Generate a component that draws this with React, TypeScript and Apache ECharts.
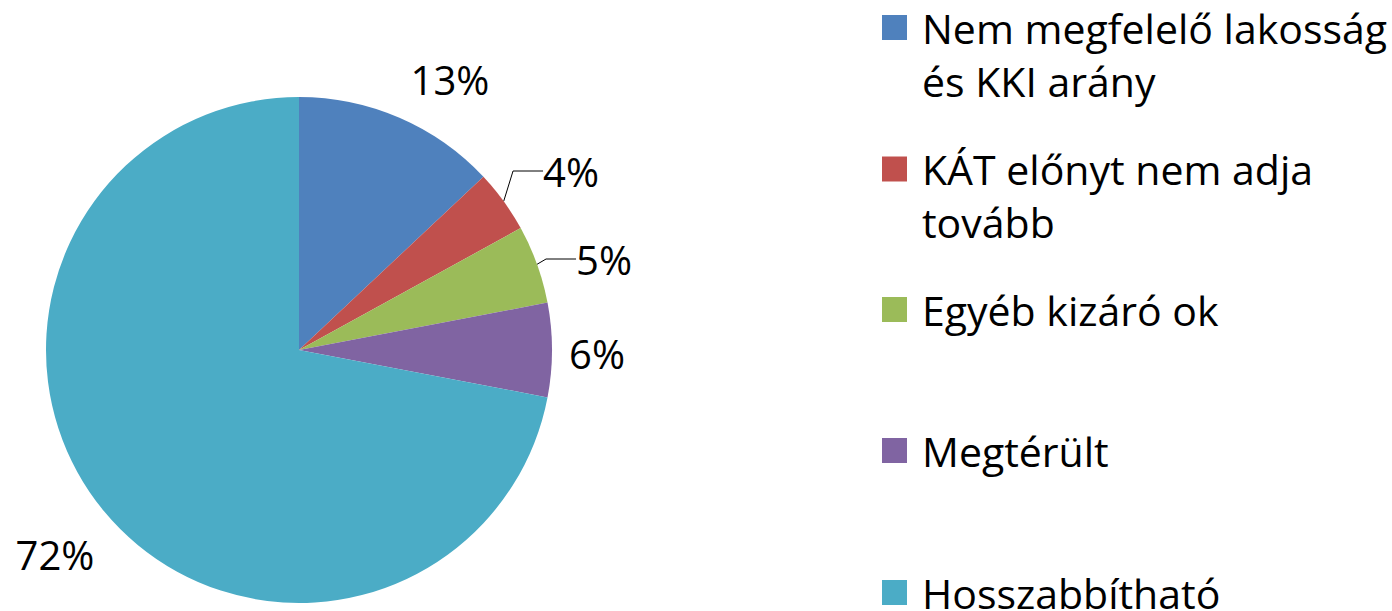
import React, { useEffect, useRef } from "react";
import * as echarts from "echarts";

const categories = [
  "Nem megfelelő lakosság\nés KKI arány",
  "KÁT előnyt nem adja\ntovább",
  "Egyéb kizáró ok",
  "Megtérült",
  "Hosszabbítható",
];
const values = [13, 4, 5, 6, 72];
const colors = ["#4F81BD", "#C0504D", "#9BBB59", "#8064A2", "#4BACC6"];
const leaderLines = [false, true, true, false, false];

// label placement (px) for each slice's percentage label
const labelPos: number[][] = [
  [450, 79],
  [571, 171],
  [604, 259],
  [597, 353],
  [55, 554],
];
// legend icon centre y for each legend entry
const legendIconY = [27.5, 169, 309.5, 450.5, 592.5];

const FONT = "'Open Sans', sans-serif";
const LH = 53;

export default function App() {
  const ref = useRef<HTMLDivElement>(null);
  useEffect(() => {
    if (!ref.current) return;
    const chart = echarts.init(ref.current, null, { renderer: "svg" });
    const legends = categories.map((name, i) => {
      const twoLine = name.includes("\n");
      const boxH = twoLine ? 3 * LH : LH;
      return {
        show: true,
        orient: "vertical",
        left: 882,
        top: legendIconY[i] - boxH / 2,
        padding: 0,
        data: [name],
        icon: "rect",
        itemWidth: 25,
        itemHeight: 25,
        selectedMode: false,
        formatter: (n: string) => (n.includes("\n") ? "\u00a0\n" + n : n),
        textStyle: {
          fontFamily: FONT,
          fontSize: 41,
          color: "#000",
          lineHeight: LH,
          padding: [0, 0, 0, 10],
        },
      };
    });
    chart.setOption({
      animation: false,
      backgroundColor: "#fff",
      color: colors,
      legend: legends,
      series: [
        {
          type: "pie",
          center: [299, 350],
          radius: 253,
          startAngle: 90,
          clockwise: true,
          avoidLabelOverlap: false,
          itemStyle: { borderWidth: 0 },
          label: {
            show: true,
            position: "outside",
            fontFamily: FONT,
            fontSize: 40,
            color: "#000",
            formatter: (p: any) => Math.round(p.percent) + "%",
          },
          labelLine: {
            show: false,
            lineStyle: { color: "#000", width: 1 },
          },
          labelLayout: (params: any) => {
            const [x, y] = labelPos[params.dataIndex];
            return { x, y, align: "center", verticalAlign: "middle" };
          },
          emphasis: { disabled: true },
          data: categories.map((name, i) => ({
            name,
            value: values[i],
            labelLine: { show: leaderLines[i] },
          })),
        },
      ],
    });
    return () => chart.dispose();
  }, []);
  return (
    <div
      ref={ref}
      style={{ position: "fixed", left: 0, top: 0, width: 1392, height: 611 }}
    />
  );
}
